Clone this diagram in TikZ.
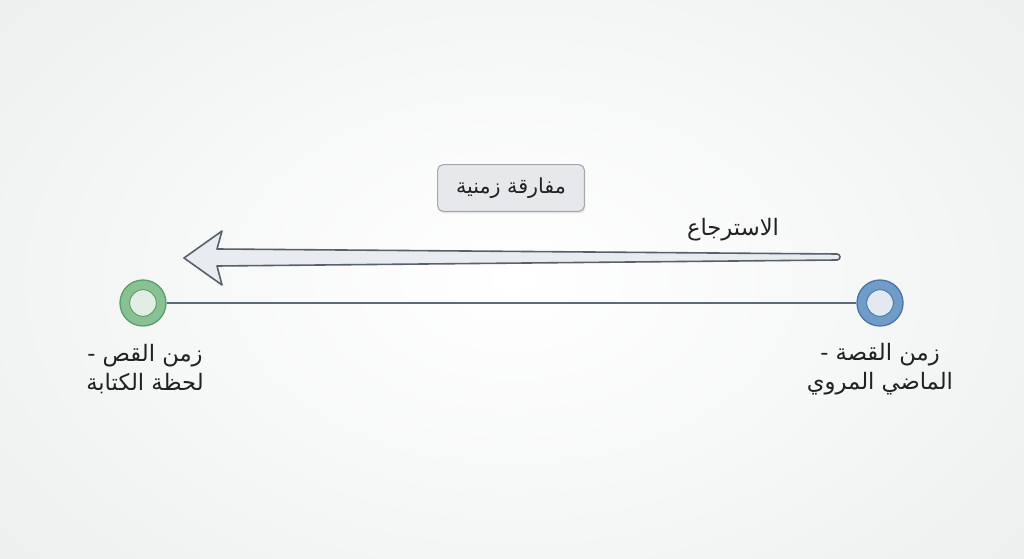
\documentclass[tikz,border=0pt]{standalone}
\usepackage{fontspec}
\usetikzlibrary{shadows}
\TeXXeTstate=1
\newfontfamily\arabicfont[Script=Arabic]{DejaVu Sans}
\definecolor{bgout}{HTML}{EEF0F0}
\definecolor{linecol}{HTML}{5B6B7A}
\definecolor{greenring}{HTML}{88C293}
\definecolor{greenedge}{HTML}{5E9C69}
\definecolor{greeninner}{HTML}{E2EEE4}
\definecolor{bluering}{HTML}{6F9CC9}
\definecolor{blueedge}{HTML}{4A76A4}
\definecolor{blueinner}{HTML}{E4E9F1}
\definecolor{boxfill}{HTML}{E6E8EB}
\definecolor{boxedge}{HTML}{A2A7AD}
\definecolor{arrowfill}{HTML}{E8ECF0}
\definecolor{arrowedge}{HTML}{56616B}
\definecolor{txt}{HTML}{222222}
\tikzset{
  ring/.style={circle, minimum size=34.5pt, inner sep=0pt, line width=1pt},
  innerdot/.style={circle, minimum size=20pt, inner sep=0pt, line width=0.7pt},
  lbl/.style={align=center, text=txt, font=\arabicfont\fontsize{17}{21.5}\selectfont},
  tagbox/.style={draw=boxedge, fill=boxfill, rounded corners=4pt, line width=0.8pt,
     minimum width=110pt, minimum height=35pt, text=txt,
     font=\arabicfont\fontsize{15.5}{21}\selectfont,
     drop shadow={opacity=0.18, shadow xshift=0.8pt, shadow yshift=-1.5pt}},
  timeline/.style={draw=linecol, line width=1.5pt},
  bigarrow/.style={draw=arrowedge, fill=arrowfill, line width=1.2pt, line join=round}
}
\begin{document}
\begin{tikzpicture}[x=0.75pt,y=-0.75pt]
\useasboundingbox (0,0) rectangle (1024,559);
\shade[inner color=white, outer color=bgout] (-150,-150) rectangle (1174,709);

% ring nodes
\node[ring, draw=greenedge, fill=greenring] (L) at (143,303) {};
\node[innerdot, draw=greenedge, fill=greeninner] (Li) at (143,303) {};
\node[ring, draw=blueedge, fill=bluering] (R) at (880,303) {};
\node[innerdot, draw=blueedge, fill=blueinner] (Ri) at (880,303) {};

% timeline
\draw[timeline] (L) -- (R);

% labels under rings
\node[lbl] (Lt) at (145,369) {\beginR زمن القص -\endR\\\beginR لحظة الكتابة\endR};
\node[lbl] (Rt) at (880,369) {\beginR زمن القصة -\endR\\\beginR الماضي المروي\endR};

% box
\node[tagbox] (box) at (511,188) {\beginR مفارقة زمنية\endR};

% big hollow arrow
\coordinate (tip) at (184,258);
\coordinate (tail) at (840,257);
\filldraw[bigarrow] (tip) -- (222,231) -- (217,249) -- (837,254)
   .. controls (841,254) and (841,260) .. (837,260)
   -- (217,266) -- (222,285) -- cycle;

\node[lbl] (back) at (733,230) {\beginR الاسترجاع\endR};
\end{tikzpicture}
\end{document}
